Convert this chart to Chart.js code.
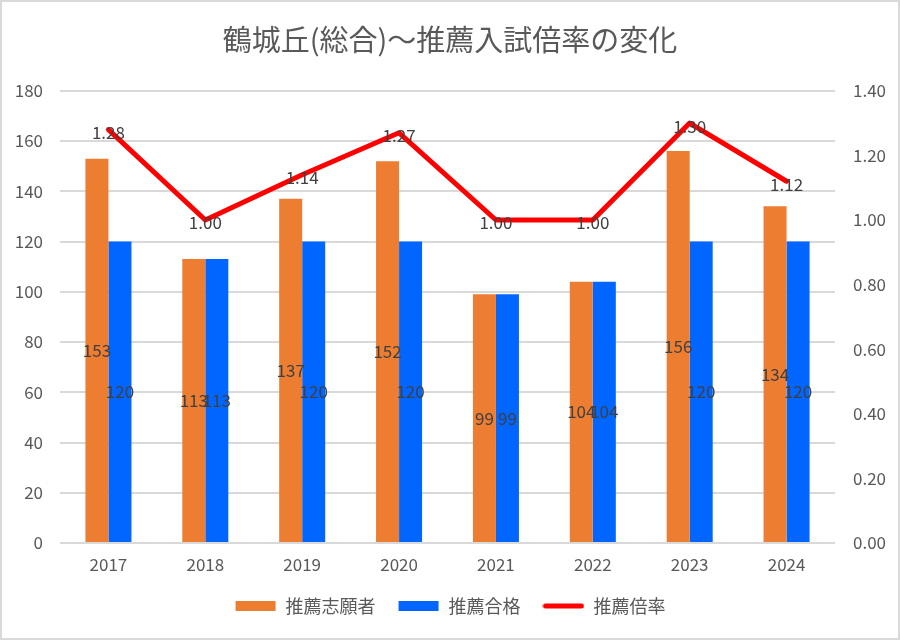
<!DOCTYPE html>
<html><head><meta charset="utf-8">
<script src="https://cdn.jsdelivr.net/npm/chart.js@4"></script>
<style>html,body{margin:0;padding:0;background:#fff}#wrap{width:900px;height:640px;position:relative}</style>
</head><body><div id="wrap"><canvas id="c" width="900" height="640"></canvas></div>
<script>
const titleText = '鶴城丘(総合)～推薦入試倍率の変化';
const years = ['2017','2018','2019','2020','2021','2022','2023','2024'];
const applicants = [153,113,137,152,99,104,156,134];
const passed = [120,113,120,120,99,104,120,120];
const ratio = [1.28,1.00,1.14,1.27,1.00,1.00,1.30,1.12];
const seriesNames = ['推薦志願者','推薦合格','推薦倍率'];

const FONT = "'Noto Sans CJK JP', 'Noto Sans', sans-serif";

function swatch(color, kind){
  const cv = document.createElement('canvas');
  cv.width = 42; cv.height = 10;
  const g = cv.getContext('2d');
  if (kind === 'line') {
    g.strokeStyle = color; g.lineWidth = 5; g.lineCap = 'round';
    g.beginPath(); g.moveTo(3,5); g.lineTo(39,5); g.stroke();
  } else {
    g.fillStyle = color; g.fillRect(1,0,40,10);
  }
  return cv;
}

const frame = {
  id:'frame',
  beforeDraw(chart){
    const c = chart.ctx;
    c.save(); c.fillStyle='#fff'; c.fillRect(0,0,chart.width,chart.height);
    c.strokeStyle='#d9d9d9'; c.lineWidth=2;
    c.strokeRect(1,1,chart.width-2,chart.height-2); c.restore();
  }
};
const labels = {
  id:'labels',
  afterDatasetsDraw(chart){
    const c = chart.ctx;
    c.save();
    c.font = '17px ' + FONT; c.fillStyle='#404040';
    c.textAlign='center'; c.textBaseline='middle';
    chart.data.datasets.forEach((ds,i)=>{
      const meta = chart.getDatasetMeta(i);
      meta.data.forEach((el,j)=>{
        const v = ds.data[j];
        if (ds.type==='line') {
          c.fillText(v.toFixed(2), el.x, el.y+3);
        } else {
          c.fillText(String(v), el.x, (el.y+el.base)/2);
        }
      });
    });
    c.restore();
  }
};

new Chart(document.getElementById('c'), {
  data: {
    labels: years,
    datasets: [
      {type:'bar', label:seriesNames[0], data:applicants, backgroundColor:'#ED7D31', borderWidth:0, yAxisID:'y', order:2,
        pointStyle:swatch('#ED7D31','rect'), categoryPercentage:0.475, barPercentage:1},
      {type:'bar', label:seriesNames[1], data:passed, backgroundColor:'#0066FF', borderWidth:0, yAxisID:'y', order:2,
        pointStyle:swatch('#0066FF','rect'), categoryPercentage:0.475, barPercentage:1},
      {type:'line', label:seriesNames[2], data:ratio, borderColor:'#FF0000', backgroundColor:'#FF0000', borderWidth:5,
        borderCapStyle:'round', borderJoinStyle:'round', pointRadius:0, pointHoverRadius:0,
        pointStyle:swatch('#FF0000','line'), yAxisID:'y1', order:1, tension:0}
    ]
  },
  options: {
    responsive:false, animation:false, devicePixelRatio:1,
    layout:{padding:{left:0,right:0,top:0,bottom:15}},
    plugins:{
      title:{display:true, text:titleText, color:'#595959', font:{family:FONT,size:29,weight:'normal'}, padding:{top:23,bottom:33}},
      legend:{position:'bottom', labels:{usePointStyle:true, pointStyleWidth:42, boxHeight:10, color:'#595959',
        font:{family:FONT,size:18}, padding:22, sort:(a,b)=>a.datasetIndex-b.datasetIndex}},
      tooltip:{enabled:false}
    },
    scales:{
      x:{grid:{display:false, drawTicks:false}, border:{display:false},
        ticks:{color:'#595959', font:{family:FONT,size:17}, padding:11},
        afterFit(s){ s.height = 32; }},
      y:{position:'left', min:0, max:180, ticks:{stepSize:20, color:'#595959', font:{family:FONT,size:17}, padding:17},
        grid:{color:'#d9d9d9', lineWidth:2, drawTicks:false}, border:{display:false},
        afterFit(s){ s.width = 60; }},
      y1:{position:'right', min:0, max:1.4, ticks:{stepSize:0.2, color:'#595959', font:{family:FONT,size:17}, padding:18,
        callback:v=>Number(v).toFixed(2)},
        grid:{display:false, drawTicks:false}, border:{display:false},
        afterFit(s){ s.width = 65; }}
    }
  },
  plugins:[frame, labels]
});
</script></body></html>
